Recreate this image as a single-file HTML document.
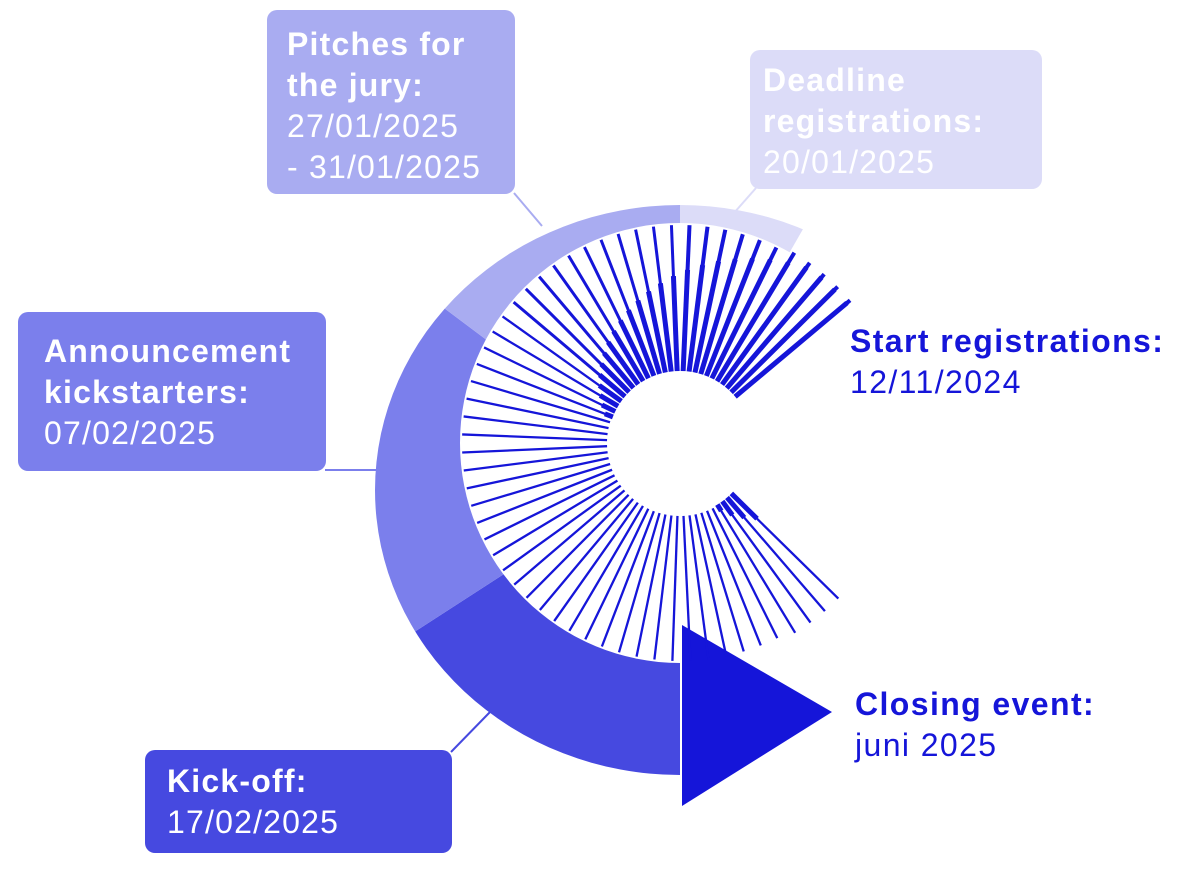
<!DOCTYPE html>
<html><head><meta charset="utf-8"><style>
html,body{margin:0;padding:0;background:#fff;}
body{width:1200px;height:882px;position:relative;overflow:hidden;font-family:"Liberation Sans",sans-serif;}
.box{position:absolute;border-radius:10px;color:#fff;font-size:32px;line-height:41px;letter-spacing:1.2px;box-sizing:border-box;}
b{font-weight:bold;}
.t{position:absolute;color:#1515d9;font-size:32px;line-height:41px;letter-spacing:1.4px;}
svg{position:absolute;left:0;top:0;}
</style></head><body>
<svg id="s" width="1200" height="882" viewBox="0 0 1200 882">
<defs>
<clipPath id="ring"><path clip-rule="evenodd" fill-rule="evenodd" d="M375,490 a305,285 0 1,0 610,0 a305,285 0 1,0 -610,0 Z M460,443 a220,220 0 1,0 440,0 a220,220 0 1,0 -440,0 Z"/></clipPath>
</defs>
<line x1="514" y1="193" x2="542" y2="226" stroke="#a9acf1" stroke-width="2"/>
<line x1="756" y1="188" x2="726" y2="222" stroke="#dcdcf8" stroke-width="2"/>
<line x1="325" y1="470" x2="378" y2="470" stroke="#7b7fec" stroke-width="2"/>
<line x1="451" y1="752" x2="490" y2="712" stroke="#4649e0" stroke-width="2"/>
<g clip-path="url(#ring)">
<polygon fill="#4649e0" points="680,460 300,706 300,900 680,900"/>
<polygon fill="#7b7fec" points="680,485 300,200 300,706 680,460"/>
<polygon fill="#a9acf1" points="680,485 300,200 300,100 680,100"/>
<polygon fill="#dcdcf8" points="680,100 680,443 860,130"/>
</g>
<polygon fill="#1515d9" points="682,625 832,712 682,806"/>
<g id="rays" stroke="#1515d9"></g>
</svg>
<div class="box" style="left:267px;top:10px;width:248px;height:184px;background:#a9acf1;padding:14px 0 0 20px;"><b>Pitches for<br>the jury:</b><br>27/01/2025<br>- 31/01/2025</div>
<div class="box" style="left:750px;top:50px;width:292px;height:139px;background:#dcdcf8;padding:10px 0 0 13px;"><b>Deadline<br>registrations:</b><br>20/01/2025</div>
<div class="box" style="left:18px;top:312px;width:308px;height:159px;background:#7b7fec;padding:19px 0 0 26px;"><b>Announcement<br>kickstarters:</b><br>07/02/2025</div>
<div class="box" style="left:145px;top:750px;width:307px;height:103px;background:#4649e0;padding:11px 0 0 22px;"><b>Kick-off:</b><br>17/02/2025</div>
<div class="t" style="left:850px;top:321px;"><b>Start registrations:</b><br>12/11/2024</div>
<div class="t" style="left:855px;top:684px;"><b>Closing event:</b><br>juni 2025</div>
<script>
var g=document.getElementById('rays'),cx=680,cy=443,ns='http://www.w3.org/2000/svg';
function L(a,r1,r2,w){var t=a*Math.PI/180,l=document.createElementNS(ns,'line');
l.setAttribute('x1',cx+r1*Math.cos(t));l.setAttribute('y1',cy-r1*Math.sin(t));
l.setAttribute('x2',cx+r2*Math.cos(t));l.setAttribute('y2',cy-r2*Math.sin(t));
l.setAttribute('stroke-width',w);g.appendChild(l);}
for(var a=40;a<=320.01;a+=4.75){
 var w=a<90?4:(a<140?3:2.3);
 L(a,73,a<60||a>300?222:218,w);
 if(a<160){var r=Math.min(218,235-(a-40)*1.3);L(a,72,r,5);}
 if(a>300){L(a,72,73+(a-298)*2,5);}
}
</script>
</body></html>
